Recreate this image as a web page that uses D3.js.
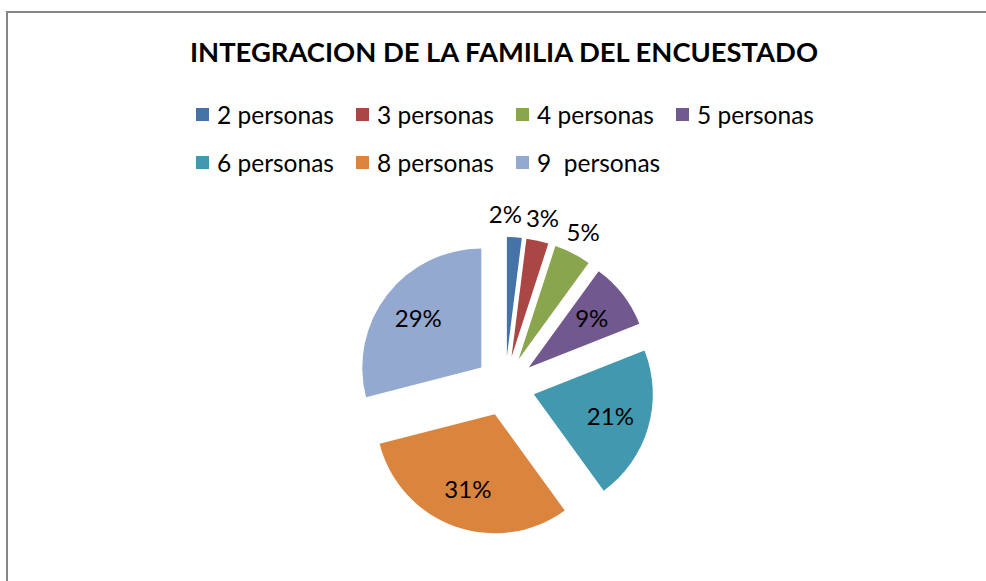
<!DOCTYPE html>
<html>
<head>
<meta charset="utf-8">
<script src="https://cdn.jsdelivr.net/npm/d3@7"></script>
<style>
  body { margin: 0; background: #fff; }
  svg text { font-family: Lato, "Open Sans", sans-serif; white-space: pre; }
</style>
</head>
<body>
<div id="chart"></div>
<script>
var categories = ["2 personas", "3 personas", "4 personas", "5 personas", "6 personas", "8 personas", "9  personas"];
var values = [2, 3, 5, 9, 21, 31, 29];
var colors = ["#4572A7", "#AA4643", "#89A54E", "#71588F", "#4198AF", "#DB843D", "#93A9CF"];

var width = 986;
var height = 581;
var cx = 505;
var cy = 386;
var radius = 119;
var explode = 30;

var svg = d3.select("#chart")
  .append("svg")
  .attr("width", width)
  .attr("height", height);

// chart frame, right and bottom edges run off the picture
svg.append("rect")
  .attr("x", 7)
  .attr("y", 12)
  .attr("width", 990)
  .attr("height", 600)
  .attr("fill", "#fff")
  .attr("stroke", "#868686")
  .attr("stroke-width", 2);

svg.append("text")
  .attr("x", 504)
  .attr("y", 62)
  .attr("text-anchor", "middle")
  .attr("font-size", 26.5)
  .attr("font-weight", "bold")
  .attr("textLength", 628)
  .attr("lengthAdjust", "spacingAndGlyphs")
  .attr("fill", "#000")
  .text("INTEGRACION DE LA FAMILIA DEL ENCUESTADO");

// legend, 4 per row
var legend = svg.append("g")
  .selectAll("g")
  .data(categories)
  .join("g")
  .attr("transform", function(d, i) {
    return "translate(" + (196 + (i % 4) * 160) + "," + (115 + Math.floor(i / 4) * 48) + ")";
  });

legend.append("rect")
  .attr("x", 0)
  .attr("y", -7)
  .attr("width", 13)
  .attr("height", 13)
  .attr("fill", function(d, i) { return colors[i]; });

legend.append("text")
  .attr("x", 21)
  .attr("y", 9)
  .attr("font-size", 24.5)
  .attr("fill", "#000")
  .text(function(d) { return d; });

var pie = d3.pie().sort(null).value(function(d) { return d; });
var arcs = pie(values);

var arc = d3.arc().innerRadius(0).outerRadius(radius);
var insideArc = d3.arc().innerRadius(radius * 0.67).outerRadius(radius * 0.67);
var outsideArc = d3.arc().innerRadius(radius + 23).outerRadius(radius + 23);

function offset(d) {
  var mid = (d.startAngle + d.endAngle) / 2;
  return [Math.sin(mid) * explode, -Math.cos(mid) * explode];
}

var slices = svg.append("g")
  .attr("transform", "translate(" + cx + "," + cy + ")")
  .selectAll("g")
  .data(arcs)
  .join("g")
  .attr("transform", function(d) {
    var o = offset(d);
    return "translate(" + o[0] + "," + o[1] + ")";
  });

slices.append("path")
  .attr("d", arc)
  .attr("fill", function(d, i) { return colors[i]; });

var labels = slices.append("text")
  .attr("transform", function(d) {
    var p = d.data < 6 ? outsideArc.centroid(d) : insideArc.centroid(d);
    d.lx = p[0];
    d.ly = p[1];
    return "translate(" + p[0] + "," + p[1] + ")";
  })
  .attr("text-anchor", "middle")
  .attr("dy", "0.36em")
  .attr("font-size", 24)
  .attr("fill", "#000")
  .text(function(d) { return d.data + "%"; });

// push crowded outside labels apart (walk back from the last one)
var outside = labels.filter(function(d) { return d.data < 6; }).nodes();
for (var i = outside.length - 2; i >= 0; i--) {
  var a = outside[i].getBoundingClientRect();
  var b = outside[i + 1].getBoundingClientRect();
  var gap = a.right + 4 - b.left;
  if (gap > 0) {
    var d = d3.select(outside[i]).datum();
    d.lx -= gap;
    d3.select(outside[i]).attr("transform", "translate(" + d.lx + "," + d.ly + ")");
  }
}
</script>
</body>
</html>
